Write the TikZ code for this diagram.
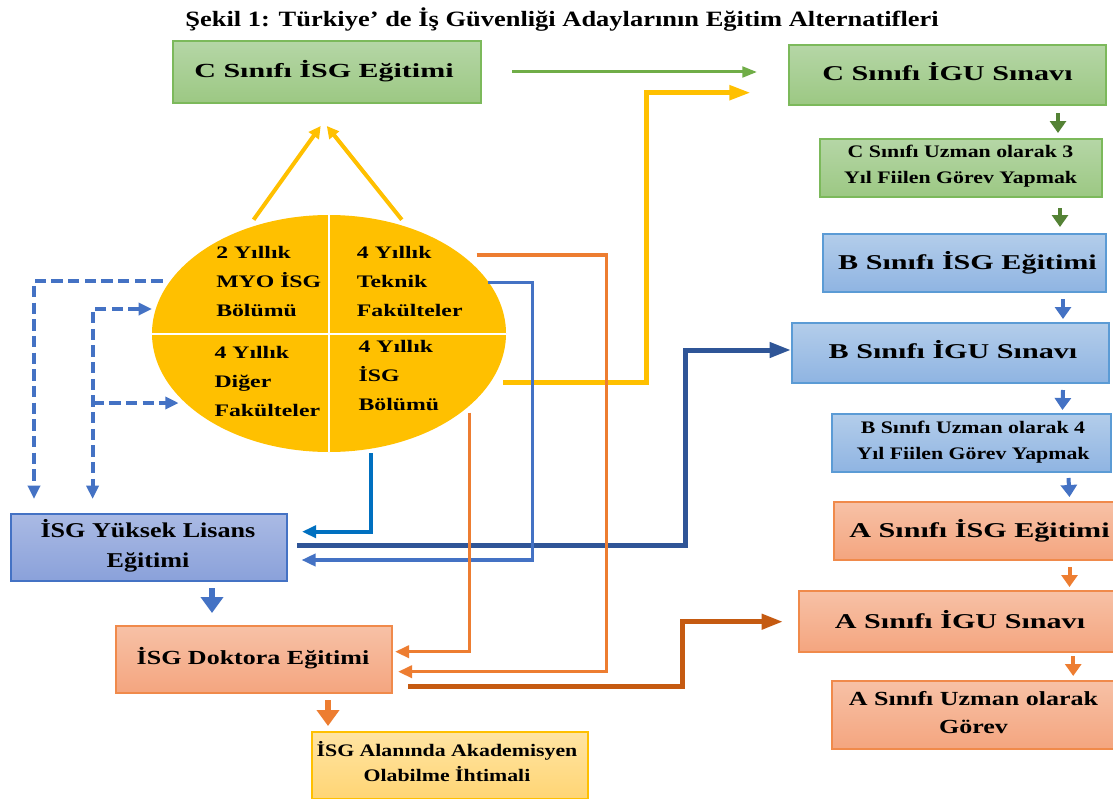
\documentclass[tikz,border=0pt]{standalone}
\usepackage{fontspec}
\setmainfont{Liberation Serif}
\newfontfamily\ftitle{Liberation Serif}[FakeStretch=1.21]
\newfontfamily\fcisg{Liberation Serif}[FakeStretch=1.5]
\newfontfamily\fbig{Liberation Serif}[FakeStretch=1.43]
\newfontfamily\fsmall{Liberation Serif}[FakeStretch=1.24]
\newfontfamily\fdok{Liberation Serif}[FakeStretch=1.3]
\newfontfamily\fell{Liberation Serif}[FakeStretch=1.35]
\usetikzlibrary{arrows.meta,shapes.geometric,calc,shadings}
\definecolor{grnB}{HTML}{7CB95B}
\definecolor{grnT}{HTML}{B5D6A6}
\definecolor{grnBo}{HTML}{9CC883}
\definecolor{bluB}{HTML}{5B9BD5}
\definecolor{bluT}{HTML}{B3CDEA}
\definecolor{bluBo}{HTML}{8FB4E2}
\definecolor{ylB}{HTML}{4472C4}
\definecolor{ylT}{HTML}{AABAE4}
\definecolor{ylBo}{HTML}{8AA1DA}
\definecolor{orB}{HTML}{F08A4B}
\definecolor{orT}{HTML}{F7C1A6}
\definecolor{orBo}{HTML}{F4A57F}
\definecolor{akB}{HTML}{FFC000}
\definecolor{akT}{HTML}{FFE4A3}
\definecolor{akBo}{HTML}{FFD574}
\definecolor{cgreen}{HTML}{70AD47}
\definecolor{cdgreen}{HTML}{548235}
\definecolor{cblue}{HTML}{4472C4}
\definecolor{cbluetwo}{HTML}{0070C0}
\definecolor{cdblue}{HTML}{2F5597}
\definecolor{corange}{HTML}{ED7D31}
\definecolor{cdorange}{HTML}{C55A11}
\definecolor{cyellow}{HTML}{FFC000}
\newcommand\mkbox[6]{\node[#6, minimum width={(#4-#2)*0.75pt}, minimum height={(#5-#3)*0.75pt}] (#1) at ({(#2+#4)/2},{(#3+#5)/2}) {};}
\newcommand\twol[2]{\begin{tabular}[t]{@{}c@{}}#1\\#2\end{tabular}}
\newcommand\threel[3]{\begin{tabular}[t]{@{}l@{}}#1\\#2\\#3\end{tabular}}
\tikzset{
  bx/.style={draw, line width=1.5pt, inner sep=0pt},
  gbox/.style={bx, draw=grnB, top color=grnT, bottom color=grnBo},
  bbox/.style={bx, draw=bluB, top color=bluT, bottom color=bluBo},
  ybox/.style={bx, draw=ylB, top color=ylT, bottom color=ylBo},
  obox/.style={bx, draw=orB, top color=orT, bottom color=orBo},
  abox/.style={bx, draw=akB, top color=akT, bottom color=akBo},
  tx/.style={anchor=base, inner sep=0pt, align=center},
  qt/.style={anchor=base west, inner sep=0pt, font={\fell\bfseries\fontsize{13.2}{21.75}\selectfont}},
  fbigt/.style={tx, font={\fbig\bfseries\fontsize{15.8}{19}\selectfont}},
  fsm/.style={tx, font={\fsmall\bfseries\fontsize{13.2}{19.6}\selectfont}},
  sa/.style={line width=3pt, -{Triangle[length=9pt,width=12pt]}},
  biga/.style={line width=4.5pt, -{Triangle[length=12pt,width=16.5pt]}},
  ya/.style={cyellow, line width=3pt, -{Triangle[length=9pt,width=9pt]}},
  thin/.style={line width=2.6pt, -{Triangle[length=10.5pt,width=9pt]}},
  thick/.style={line width=3.75pt, -{Triangle[length=16pt,width=11pt]}},
  dsh/.style={cblue, line width=3pt, dash pattern=on 8.5pt off 4pt},
  dtip/.style={-{Triangle[length=10pt,width=9pt]}}
}
\begin{document}
\begin{tikzpicture}[x=0.75pt,y=-0.75pt]
\useasboundingbox (0,0) rectangle (1113,799);
\fill[white] (0,0) rectangle (1113,799);

% title
\node[tx, font={\ftitle\bfseries\fontsize{16.4}{19}\selectfont}] (title) at (562,26.7)
  {Şekil 1: Türkiye’ de İş Güvenliği Adaylarının Eğitim Alternatifleri};

% boxes
\mkbox{cisg}{173}{41}{481}{103}{gbox}
\mkbox{cigu}{789}{45}{1106}{105}{gbox}
\mkbox{cuz}{820}{139}{1102}{197}{gbox}
\mkbox{bisg}{823}{234}{1106}{292}{bbox}
\mkbox{bigu}{792}{323}{1109}{383}{bbox}
\mkbox{buz}{832}{414}{1111}{472}{bbox}
\mkbox{aisg}{834}{502}{1116}{560}{obox}
\mkbox{aigu}{799}{591}{1116}{652}{obox}
\mkbox{auz}{832}{681}{1116}{749}{obox}
\mkbox{yl}{11}{514}{287}{581}{ybox}
\mkbox{dok}{116}{626}{392}{693}{obox}
\mkbox{akd}{312}{732}{588}{799}{abox}

% box texts
\node[tx, font={\fcisg\bfseries\fontsize{15}{19}\selectfont}] (cisgt) at (324,77.3) {C Sınıfı İSG Eğitimi};
\node[fbigt] (cigut) at (947.5,80.7) {C Sınıfı İGU Sınavı};
\node[fsm] (cuzt) at (960.5,157.7) {\twol{C Sınıfı Uzman olarak 3}{Yıl Fiilen Görev Yapmak}};
\node[fbigt] (bisgt) at (967.5,269.3) {B Sınıfı İSG Eğitimi};
\node[fbigt] (bigut) at (953,358.3) {B Sınıfı İGU Sınavı};
\node[fsm] (buzt) at (973,433) {\twol{B Sınıfı Uzman olarak 4}{Yıl Fiilen Görev Yapmak}};
\node[fbigt] (aisgt) at (979.5,537.7) {A Sınıfı İSG Eğitimi};
\node[fbigt] (aigut) at (960,628.3) {A Sınıfı İGU Sınavı};
\node[tx, font={\fdok\bfseries\fontsize{15}{21.2}\selectfont}] (auzt) at (973.5,705) {\twol{A Sınıfı Uzman olarak}{Görev}};
\node[tx, font={\fsmall\bfseries\fontsize{15.8}{22.5}\selectfont}] (ylt) at (148,537.3) {\twol{İSG Yüksek Lisans}{Eğitimi}};
\node[tx, font={\fdok\bfseries\fontsize{15}{19}\selectfont}] (dokt) at (253,664) {İSG Doktora Eğitimi};
\node[tx, font={\fsmall\bfseries\fontsize{13.2}{18.75}\selectfont}] (akdt) at (447,756.7) {\twol{İSG Alanında Akademisyen}{Olabilme İhtimali}};

% ellipse
\node[ellipse, fill=cyellow, minimum width={354*0.75pt}, minimum height={237*0.75pt}, inner sep=0pt] (el) at (329,333.5) {};
\draw[white, line width=1.5pt] (el.north) -- (el.south);
\draw[white, line width=1.5pt] (el.west) -- (el.east);
\node[qt] (q1) at (216,258.3) {\threel{2 Yıllık}{MYO İSG}{Bölümü}};
\node[qt] (q2) at (356.7,258.3) {\threel{4 Yıllık}{Teknik}{Fakülteler}};
\node[qt] (q3) at (214.3,358.3) {\threel{4 Yıllık}{Diğer}{Fakülteler}};
\node[qt] (q4) at (358.3,352.7) {\threel{4 Yıllık}{İSG}{Bölümü}};

% right column short arrows
\draw[sa, cdgreen] ($(cigu.south)+(110.5,7)$) -- ($(cuz.north)+(97,-5)$);
\draw[sa, cdgreen] ($(cuz.south)+(99,10)$) -- ($(bisg.north)+(95.5,-6)$);
\draw[sa, cblue] ($(bisg.south)+(98.5,6)$) -- ($(bigu.north)+(112.5,-3)$);
\draw[sa, cblue] ($(bigu.south)+(112.5,6)$) -- ($(buz.north)+(91,-3)$);
\draw[sa, cblue] ($(buz.south)+(97,5)$) -- ($(aisg.north)+(94.5,-4)$);
\draw[sa, corange] ($(aisg.south)+(94.5,6)$) -- ($(aigu.north)+(112,-3)$);
\draw[sa, corange] ($(aigu.south)+(115.7,3)$) -- ($(auz.north)+(99.2,-4)$);

% left thick arrows
\draw[biga, cblue] ($(yl.south)+(63,6)$) -- ($(dok.north)+(-42,-12)$);
\draw[biga, corange] ($(dok.south)+(74,6)$) -- ($(akd.north)+(-122,-5)$);

% yellow arrows to C ISG
\draw[ya] ($(el.north)+(-75.4,5)$) -- ($(cisg.south)+(-6.3,22)$);
\draw[ya] ($(el.north)+(72.8,5)$) -- ($(cisg.south)+(-0.2,22)$);

% green arrow
\draw[cgreen, line width=2.25pt, -{Triangle[length=11pt,width=8pt]}] ($(cisg.east)+(30,0)$) -- ($(cigu.west)+(-31,-3)$);

% yellow long arrow
\draw[cyellow, line width=3.75pt, -{Triangle[length=16pt,width=10.5pt]}]
  ($(el.center)+(174,48.5)$) -| ($(cigu.west)+(-141.3,17.7)$) -- ($(cigu.west)+(-37.3,17.7)$);

% dark blue thick
\draw[thick, cdblue] ($(yl.east)+(9,-2.5)$) -| ($(bigu.west)+(-105.3,-3)$) -- ($(bigu.west)+(0,-3)$);

% dark orange thick
\draw[thick, cdorange] ($(dok.east)+(15,27.2)$) -| ($(aigu.west)+(-115.7,0.2)$) -- ($(aigu.west)+(-15,0.2)$);

% orange from Teknik
\draw[thin, corange] ($(el.center)+(147.7,-78.5)$) -| ($(dok.east)+(213.7,12.2)$) -- ($(dok.east)+(5,12.2)$);
% blue from Teknik
\draw[thin, cblue] ($(el.center)+(159,-51.2)$) -| ($(yl.east)+(244.7,12.5)$) -- ($(yl.east)+(13.5,12.5)$);
% orange from ISG Bolumu
\draw[thin, corange] ($(el.center)+(140.3,79.2)$) |- ($(dok.east)+(2,-7.8)$);
% blue from ellipse bottom
\draw[cbluetwo, line width=3pt, -{Triangle[length=10.5pt,width=9pt]}] ($(el.south)+(42.4,1)$) |- ($(yl.east)+(14,-15.8)$);

% dashed
\coordinate (dj) at ($(yl.north west)+(82.6,-110)$);
\coordinate (dt) at ($(el.center)+(-150.4,0)$);
\draw[dsh, dtip] ($(el.center)+(-166.5,-52.5)$) -| ($(yl.north west)+(24,-14)$);
\draw[dsh, {Triangle[length=10pt,width=9pt]}-{Triangle[length=10pt,width=9pt]}] ($(el.center)+(-177,-24.5)$) -| ($(yl.north west)+(82.6,-14)$);
\draw[dsh, dtip] (dj) -- (dj -| dt);
\end{tikzpicture}
\end{document}
